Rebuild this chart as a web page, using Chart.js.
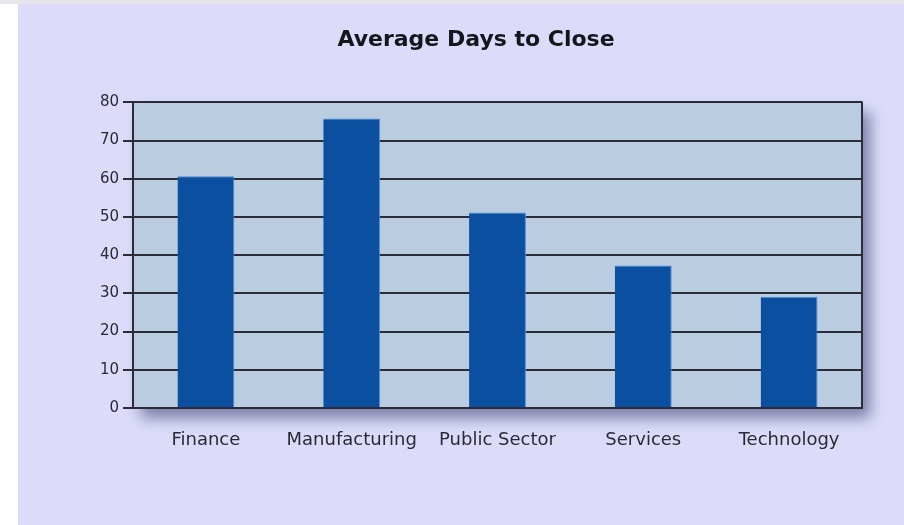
<!DOCTYPE html>
<html>
<head>
<meta charset="utf-8">
<script src="https://cdn.jsdelivr.net/npm/chart.js@4.4.1/dist/chart.umd.min.js"></script>
<style>
  html, body { margin: 0; padding: 0; background: #ffffff; }
  .topStrip { position: absolute; left: 0; top: 0; width: 904px; height: 4px; background: #e6e6ea; }
  .panel { position: absolute; left: 18px; top: 4px; width: 886px; height: 521px; background: #dcdcfa; }
</style>
</head>
<body>
<div class="topStrip"></div>
<div class="panel"><canvas id="daysChart" width="886" height="521"></canvas></div>
<script>
const categories = ["Finance", "Manufacturing", "Public Sector", "Services", "Technology"];
const avgDays = [60.7, 75.8, 51.2, 37.3, 29.1];
const yTicks = [0, 10, 20, 30, 40, 50, 60, 70, 80];

const FONT = "'DejaVu Sans', Verdana, sans-serif";
const LINE = "#2c2c38";

// light-blue plot area with a soft drop shadow, plus a closing right edge
const plotBackdrop = {
  id: "plotBackdrop",
  beforeDraw(chart) {
    const { ctx, chartArea: a } = chart;
    ctx.save();
    ctx.shadowColor = "rgba(50, 50, 100, 0.55)";
    ctx.shadowBlur = 14;
    ctx.shadowOffsetX = 8;
    ctx.shadowOffsetY = 10;
    ctx.fillStyle = "#b9cce0";
    ctx.fillRect(a.left, a.top, a.right - a.left, a.bottom - a.top);
    ctx.restore();
  },
  afterDraw(chart) {
    const { ctx, chartArea: a } = chart;
    ctx.save();
    ctx.strokeStyle = LINE;
    ctx.lineWidth = 2;
    ctx.beginPath();
    ctx.moveTo(a.right, a.top - 1);
    ctx.lineTo(a.right, a.bottom + 1);
    ctx.stroke();
    ctx.restore();
  }
};

new Chart(document.getElementById("daysChart"), {
  type: "bar",
  data: {
    labels: categories,
    datasets: [{
      data: avgDays,
      backgroundColor: "#0b4fa0",
      borderColor: "#4f8fd6",
      borderWidth: { top: 1, right: 1, left: 0, bottom: 0 },
      borderSkipped: "bottom",
      barPercentage: 0.39,
      categoryPercentage: 1.0
    }]
  },
  options: {
    responsive: false,
    animation: false,
    layout: { padding: { left: 72, right: 42, top: 0, bottom: 0 } },
    plugins: {
      legend: { display: false },
      tooltip: { enabled: false },
      title: {
        display: true,
        text: "Average Days to Close",
        color: "#15151c",
        font: { family: FONT, size: 22, weight: "bold", lineHeight: 1.2 },
        padding: { top: 23, bottom: 49 }
      }
    },
    scales: {
      x: {
        grid: { display: false, drawTicks: false },
        border: { display: true, color: LINE, width: 2 },
        ticks: { color: "#2a2a34", font: { family: FONT, size: 18 }, padding: 22, maxRotation: 0 },
        afterFit(scale) { scale.height = 117; }
      },
      y: {
        min: 0,
        max: 80,
        afterBuildTicks(scale) { scale.ticks = yTicks.map(v => ({ value: v })); },
        grid: { color: LINE, lineWidth: 2, tickLength: 10, drawTicks: true },
        border: { display: true, color: LINE, width: 2 },
        ticks: { color: "#2a2a34", font: { family: FONT, size: 15 }, padding: 4 },
        afterFit(scale) { scale.width = 43; }
      }
    }
  },
  plugins: [plotBackdrop]
});
</script>
</body>
</html>
